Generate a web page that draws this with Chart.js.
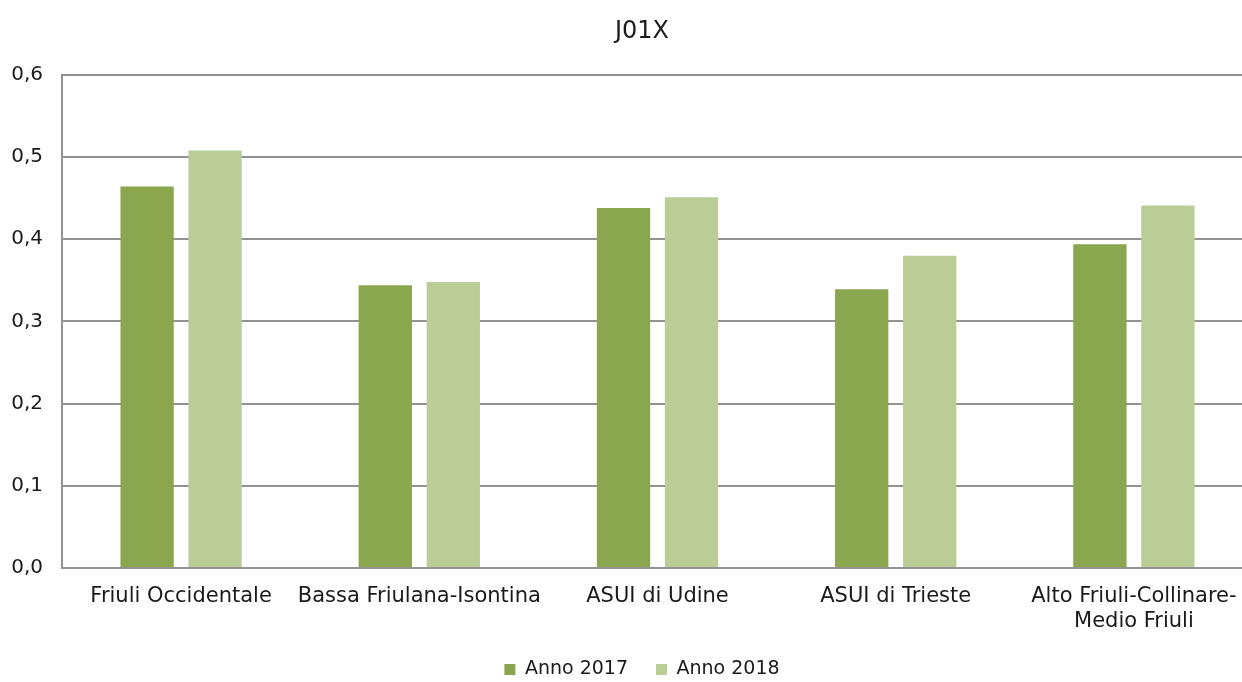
<!DOCTYPE html>
<html lang="it">
<head>
<meta charset="utf-8">
<title>J01X</title>
<script src="https://cdn.jsdelivr.net/npm/chart.js@4.4.1/dist/chart.umd.min.js"></script>
<style>
  html, body { margin: 0; padding: 0; background: #fff; overflow: hidden; }
  #wrap { position: absolute; left: 0; top: 0; width: 1284px; height: 682px; }
</style>
</head>
<body>
<div id="wrap"><canvas id="chart"></canvas></div>
<script>
// Categories (aziende sanitarie) and yearly values
const categories = [
  'Friuli Occidentale',
  'Bassa Friulana-Isontina',
  'ASUI di Udine',
  'ASUI di Trieste',
  ['Alto Friuli-Collinare-', 'Medio Friuli'],
];
const anno2017 = [0.464, 0.344, 0.438, 0.339, 0.394];
const anno2018 = [0.508, 0.348, 0.451, 0.380, 0.441];

const yMin = 0;
const yMax = 0.6;
const yStep = 0.1;

const FONT = 'DejaVu Sans';
const TEXT = '#1a1a1a';
const GRID = '#939393';

const fmt = v => v.toFixed(1).replace('.', ',');

// legend padding gives the wide gap between items; trim the box height
// so the space under the legend row stays small
const legendHeight = {
  id: 'legendHeight',
  beforeLayout(chart) {
    const lg = chart.legend;
    if (!lg || lg._fitPatched) return;
    const fit = lg.fit;
    lg.fit = function () {
      fit.call(this);
      this.height = 50;
      this.bottom = this.top + this.height;
    };
    lg._fitPatched = true;
  },
};

new Chart(document.getElementById('chart'), {
  type: 'bar',
  data: {
    labels: categories,
    datasets: [
      { label: 'Anno 2017', data: anno2017, backgroundColor: '#8aa64f' },
      { label: 'Anno 2018', data: anno2018, backgroundColor: '#bacd96' },
    ],
  },
  options: {
    responsive: true,
    maintainAspectRatio: false,
    animation: false,
    categoryPercentage: 0.571,
    barPercentage: 0.784,
    layout: { padding: 0 },
    plugins: {
      title: {
        display: true,
        text: 'J01X',
        color: TEXT,
        font: { family: FONT, size: 24, weight: 'normal' },
        padding: { top: 17, bottom: 29 },
      },
      legend: {
        position: 'bottom',
        labels: {
          color: TEXT,
          font: { family: FONT, size: 19 },
          boxWidth: 11,
          boxHeight: 11,
          padding: 28,
        },
      },
      tooltip: { enabled: false },
    },
    scales: {
      x: {
        grid: { display: false },
        border: { display: true, color: GRID, width: 2 },
        ticks: {
          color: TEXT,
          font: { family: FONT, size: 21, lineHeight: 1.2 },
          padding: 8,
          maxRotation: 0,
          autoSkip: false,
        },
        afterFit: scale => { scale.height = 64; },
      },
      y: {
        min: yMin,
        max: yMax,
        grid: { color: GRID, lineWidth: 2, drawTicks: false },
        border: { display: true, color: GRID, width: 2 },
        ticks: {
          stepSize: yStep,
          color: TEXT,
          font: { family: FONT, size: 20 },
          padding: 19,
          callback: v => fmt(v),
        },
        afterFit: scale => { scale.width = 62; },
      },
      // empty right-hand gutter so title and legend stay centred on the canvas
      gutter: {
        type: 'linear',
        position: 'right',
        display: true,
        grid: { display: false },
        border: { display: false },
        ticks: { display: false },
        afterFit: scale => { scale.width = 31; },
      },
    },
  },
  plugins: [legendHeight],
});
</script>
</body>
</html>
